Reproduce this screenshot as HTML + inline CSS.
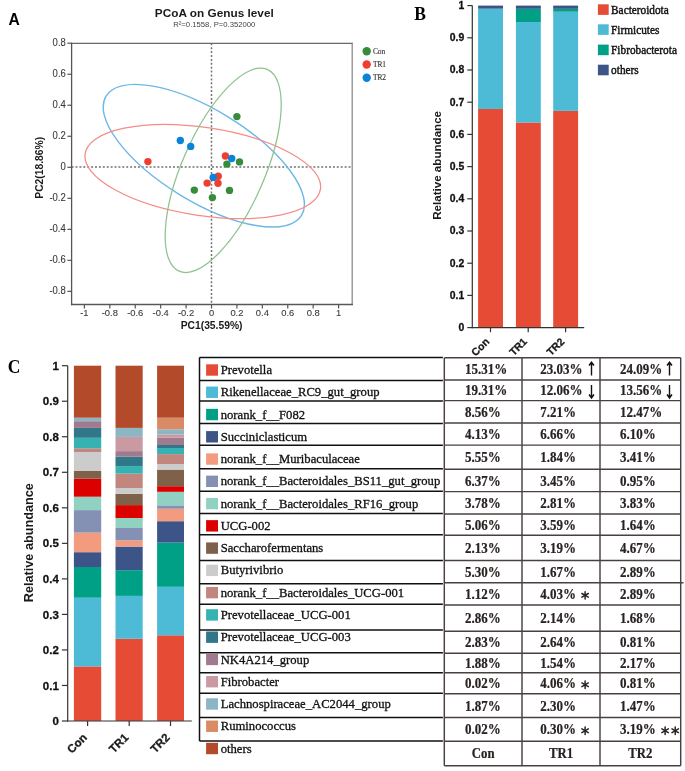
<!DOCTYPE html><html><head><meta charset="utf-8"><style>html,body{margin:0;padding:0;background:#fff;}svg{display:block;filter:blur(0.3px);}text{font-family:"Liberation Sans",sans-serif;}.sf{font-family:"Liberation Serif",serif;}</style></head><body>
<svg width="685" height="771" viewBox="0 0 685 771">
<text x="8.6" y="24.6" font-size="15.6" font-weight="bold" fill="#000">A</text>
<text x="214.3" y="17.1" font-size="11.8" font-weight="bold" fill="#1a1a1a" text-anchor="middle">PCoA on Genus level</text>
<text x="214.3" y="27.1" font-size="7.7" fill="#444" text-anchor="middle">R²=0.1558, P=0.352000</text>
<line x1="71.6" y1="167.0" x2="352.2" y2="167.0" stroke="#727272" stroke-width="1.5" stroke-dasharray="2,1.9"/>
<line x1="211.50" y1="43.3" x2="211.50" y2="304.5" stroke="#727272" stroke-width="1.5" stroke-dasharray="2,1.9"/>
<ellipse cx="203.8" cy="155.7" rx="114.5" ry="45.8" transform="rotate(31.4 203.8 155.7)" fill="none" stroke="#6cb8e6" stroke-width="1.4"/>
<ellipse cx="202.8" cy="171.5" rx="119.0" ry="44.0" transform="rotate(8.56 202.8 171.5)" fill="none" stroke="#f58c86" stroke-width="1.25"/>
<ellipse cx="223.2" cy="170.3" rx="110.06" ry="41.18" transform="rotate(-66.4 223.2 170.3)" fill="none" stroke="#8cc391" stroke-width="1.25"/>
<line x1="71.6" y1="43.3" x2="352.2" y2="43.3" stroke="#686868" stroke-width="1.3" stroke-linecap="square"/>
<line x1="352.2" y1="43.3" x2="352.2" y2="304.5" stroke="#8c8c8c" stroke-width="1.3" stroke-linecap="square"/>
<line x1="71.6" y1="304.5" x2="352.2" y2="304.5" stroke="#585858" stroke-width="1.3" stroke-linecap="square"/>
<line x1="71.6" y1="43.3" x2="71.6" y2="304.5" stroke="#555" stroke-width="1.3" stroke-linecap="square"/>
<line x1="67.4" y1="43.22" x2="71.6" y2="43.22" stroke="#555" stroke-width="1.2"/>
<text transform="translate(65.8 46.32) scale(1 1.08)" font-size="9.5" fill="#3a3a3a" stroke="#3a3a3a" stroke-width="0.1" text-anchor="end">0.8</text>
<line x1="67.4" y1="74.24" x2="71.6" y2="74.24" stroke="#555" stroke-width="1.2"/>
<text transform="translate(65.8 77.34) scale(1 1.08)" font-size="9.5" fill="#3a3a3a" stroke="#3a3a3a" stroke-width="0.1" text-anchor="end">0.6</text>
<line x1="67.4" y1="105.26" x2="71.6" y2="105.26" stroke="#555" stroke-width="1.2"/>
<text transform="translate(65.8 108.36) scale(1 1.08)" font-size="9.5" fill="#3a3a3a" stroke="#3a3a3a" stroke-width="0.1" text-anchor="end">0.4</text>
<line x1="67.4" y1="136.28" x2="71.6" y2="136.28" stroke="#555" stroke-width="1.2"/>
<text transform="translate(65.8 139.38) scale(1 1.08)" font-size="9.5" fill="#3a3a3a" stroke="#3a3a3a" stroke-width="0.1" text-anchor="end">0.2</text>
<line x1="67.4" y1="167.30" x2="71.6" y2="167.30" stroke="#555" stroke-width="1.2"/>
<text transform="translate(65.8 170.40) scale(1 1.08)" font-size="9.5" fill="#3a3a3a" stroke="#3a3a3a" stroke-width="0.1" text-anchor="end">0</text>
<line x1="67.4" y1="198.32" x2="71.6" y2="198.32" stroke="#555" stroke-width="1.2"/>
<text transform="translate(65.8 201.42) scale(1 1.08)" font-size="9.5" fill="#3a3a3a" stroke="#3a3a3a" stroke-width="0.1" text-anchor="end">-0.2</text>
<line x1="67.4" y1="229.34" x2="71.6" y2="229.34" stroke="#555" stroke-width="1.2"/>
<text transform="translate(65.8 232.44) scale(1 1.08)" font-size="9.5" fill="#3a3a3a" stroke="#3a3a3a" stroke-width="0.1" text-anchor="end">-0.4</text>
<line x1="67.4" y1="260.36" x2="71.6" y2="260.36" stroke="#555" stroke-width="1.2"/>
<text transform="translate(65.8 263.46) scale(1 1.08)" font-size="9.5" fill="#3a3a3a" stroke="#3a3a3a" stroke-width="0.1" text-anchor="end">-0.6</text>
<line x1="67.4" y1="291.38" x2="71.6" y2="291.38" stroke="#555" stroke-width="1.2"/>
<text transform="translate(65.8 294.48) scale(1 1.08)" font-size="9.5" fill="#3a3a3a" stroke="#3a3a3a" stroke-width="0.1" text-anchor="end">-0.8</text>
<line x1="84.40" y1="304.5" x2="84.40" y2="308.6" stroke="#555" stroke-width="1.2"/>
<text transform="translate(84.40 316.4) scale(1 1.06)" font-size="9.4" fill="#3a3a3a" stroke="#3a3a3a" stroke-width="0.1" text-anchor="middle">-1</text>
<line x1="109.82" y1="304.5" x2="109.82" y2="308.6" stroke="#555" stroke-width="1.2"/>
<text transform="translate(109.82 316.4) scale(1 1.06)" font-size="9.4" fill="#3a3a3a" stroke="#3a3a3a" stroke-width="0.1" text-anchor="middle">-0.8</text>
<line x1="135.24" y1="304.5" x2="135.24" y2="308.6" stroke="#555" stroke-width="1.2"/>
<text transform="translate(135.24 316.4) scale(1 1.06)" font-size="9.4" fill="#3a3a3a" stroke="#3a3a3a" stroke-width="0.1" text-anchor="middle">-0.6</text>
<line x1="160.66" y1="304.5" x2="160.66" y2="308.6" stroke="#555" stroke-width="1.2"/>
<text transform="translate(160.66 316.4) scale(1 1.06)" font-size="9.4" fill="#3a3a3a" stroke="#3a3a3a" stroke-width="0.1" text-anchor="middle">-0.4</text>
<line x1="186.08" y1="304.5" x2="186.08" y2="308.6" stroke="#555" stroke-width="1.2"/>
<text transform="translate(186.08 316.4) scale(1 1.06)" font-size="9.4" fill="#3a3a3a" stroke="#3a3a3a" stroke-width="0.1" text-anchor="middle">-0.2</text>
<line x1="211.50" y1="304.5" x2="211.50" y2="308.6" stroke="#555" stroke-width="1.2"/>
<text transform="translate(211.50 316.4) scale(1 1.06)" font-size="9.4" fill="#3a3a3a" stroke="#3a3a3a" stroke-width="0.1" text-anchor="middle">0</text>
<line x1="236.92" y1="304.5" x2="236.92" y2="308.6" stroke="#555" stroke-width="1.2"/>
<text transform="translate(236.92 316.4) scale(1 1.06)" font-size="9.4" fill="#3a3a3a" stroke="#3a3a3a" stroke-width="0.1" text-anchor="middle">0.2</text>
<line x1="262.34" y1="304.5" x2="262.34" y2="308.6" stroke="#555" stroke-width="1.2"/>
<text transform="translate(262.34 316.4) scale(1 1.06)" font-size="9.4" fill="#3a3a3a" stroke="#3a3a3a" stroke-width="0.1" text-anchor="middle">0.4</text>
<line x1="287.76" y1="304.5" x2="287.76" y2="308.6" stroke="#555" stroke-width="1.2"/>
<text transform="translate(287.76 316.4) scale(1 1.06)" font-size="9.4" fill="#3a3a3a" stroke="#3a3a3a" stroke-width="0.1" text-anchor="middle">0.6</text>
<line x1="313.18" y1="304.5" x2="313.18" y2="308.6" stroke="#555" stroke-width="1.2"/>
<text transform="translate(313.18 316.4) scale(1 1.06)" font-size="9.4" fill="#3a3a3a" stroke="#3a3a3a" stroke-width="0.1" text-anchor="middle">0.8</text>
<line x1="338.60" y1="304.5" x2="338.60" y2="308.6" stroke="#555" stroke-width="1.2"/>
<text transform="translate(338.60 316.4) scale(1 1.06)" font-size="9.4" fill="#3a3a3a" stroke="#3a3a3a" stroke-width="0.1" text-anchor="middle">1</text>
<text x="211.6" y="329.2" font-size="10.3" font-weight="bold" fill="#1a1a1a" text-anchor="middle">PC1(35.59%)</text>
<text transform="translate(42.6 167.8) rotate(-90)" font-size="10.3" font-weight="bold" fill="#1a1a1a" text-anchor="middle">PC2(18.86%)</text>
<circle cx="236.9" cy="116.6" r="3.7" fill="#368c3a"/>
<circle cx="226.9" cy="164.1" r="3.7" fill="#368c3a"/>
<circle cx="239.5" cy="161.9" r="3.7" fill="#368c3a"/>
<circle cx="229.5" cy="190.4" r="3.7" fill="#368c3a"/>
<circle cx="194.3" cy="190.1" r="3.7" fill="#368c3a"/>
<circle cx="212.4" cy="197.6" r="3.7" fill="#368c3a"/>
<circle cx="147.9" cy="161.6" r="3.7" fill="#f03d31"/>
<circle cx="225.4" cy="156.0" r="3.7" fill="#f03d31"/>
<circle cx="218.2" cy="176.3" r="3.7" fill="#f03d31"/>
<circle cx="207.1" cy="183.1" r="3.7" fill="#f03d31"/>
<circle cx="218.0" cy="183.3" r="3.7" fill="#f03d31"/>
<circle cx="180.3" cy="140.5" r="3.7" fill="#0b83d6"/>
<circle cx="190.7" cy="146.4" r="3.7" fill="#0b83d6"/>
<circle cx="231.7" cy="158.5" r="3.7" fill="#0b83d6"/>
<circle cx="213.2" cy="177.4" r="3.7" fill="#0b83d6"/>
<circle cx="366.7" cy="51.3" r="4.2" fill="#368c3a"/>
<text class="sf" x="372.9" y="53.90" font-size="7.4" fill="#3a3a3a" stroke="#3a3a3a" stroke-width="0.15">Con</text>
<circle cx="366.7" cy="64.5" r="4.2" fill="#f03d31"/>
<text class="sf" x="372.9" y="67.10" font-size="7.4" fill="#3a3a3a" stroke="#3a3a3a" stroke-width="0.15">TR1</text>
<circle cx="366.7" cy="77.8" r="4.2" fill="#0b83d6"/>
<text class="sf" x="372.9" y="80.40" font-size="7.4" fill="#3a3a3a" stroke="#3a3a3a" stroke-width="0.15">TR2</text>
<text class="sf" transform="translate(414.2 19.9) scale(1 1.1)" font-size="17.5" font-weight="bold" fill="#000">B</text>
<line x1="467.3" y1="327.60" x2="472.3" y2="327.60" stroke="#333" stroke-width="1.2"/>
<text x="464.3" y="331.00" font-size="10.4" font-weight="bold" fill="#111" stroke="#111" stroke-width="0.3" text-anchor="end">0</text>
<line x1="467.3" y1="295.40" x2="472.3" y2="295.40" stroke="#333" stroke-width="1.2"/>
<text x="464.3" y="298.80" font-size="10.4" font-weight="bold" fill="#111" stroke="#111" stroke-width="0.3" text-anchor="end">0.1</text>
<line x1="467.3" y1="263.20" x2="472.3" y2="263.20" stroke="#333" stroke-width="1.2"/>
<text x="464.3" y="266.60" font-size="10.4" font-weight="bold" fill="#111" stroke="#111" stroke-width="0.3" text-anchor="end">0.2</text>
<line x1="467.3" y1="231.00" x2="472.3" y2="231.00" stroke="#333" stroke-width="1.2"/>
<text x="464.3" y="234.40" font-size="10.4" font-weight="bold" fill="#111" stroke="#111" stroke-width="0.3" text-anchor="end">0.3</text>
<line x1="467.3" y1="198.80" x2="472.3" y2="198.80" stroke="#333" stroke-width="1.2"/>
<text x="464.3" y="202.20" font-size="10.4" font-weight="bold" fill="#111" stroke="#111" stroke-width="0.3" text-anchor="end">0.4</text>
<line x1="467.3" y1="166.60" x2="472.3" y2="166.60" stroke="#333" stroke-width="1.2"/>
<text x="464.3" y="170.00" font-size="10.4" font-weight="bold" fill="#111" stroke="#111" stroke-width="0.3" text-anchor="end">0.5</text>
<line x1="467.3" y1="134.40" x2="472.3" y2="134.40" stroke="#333" stroke-width="1.2"/>
<text x="464.3" y="137.80" font-size="10.4" font-weight="bold" fill="#111" stroke="#111" stroke-width="0.3" text-anchor="end">0.6</text>
<line x1="467.3" y1="102.20" x2="472.3" y2="102.20" stroke="#333" stroke-width="1.2"/>
<text x="464.3" y="105.60" font-size="10.4" font-weight="bold" fill="#111" stroke="#111" stroke-width="0.3" text-anchor="end">0.7</text>
<line x1="467.3" y1="70.00" x2="472.3" y2="70.00" stroke="#333" stroke-width="1.2"/>
<text x="464.3" y="73.40" font-size="10.4" font-weight="bold" fill="#111" stroke="#111" stroke-width="0.3" text-anchor="end">0.8</text>
<line x1="467.3" y1="37.80" x2="472.3" y2="37.80" stroke="#333" stroke-width="1.2"/>
<text x="464.3" y="41.20" font-size="10.4" font-weight="bold" fill="#111" stroke="#111" stroke-width="0.3" text-anchor="end">0.9</text>
<line x1="467.3" y1="5.60" x2="472.3" y2="5.60" stroke="#333" stroke-width="1.2"/>
<text x="464.3" y="9.00" font-size="10.4" font-weight="bold" fill="#111" stroke="#111" stroke-width="0.3" text-anchor="end">1</text>
<rect x="478.1" y="108.96" width="24.9" height="218.64" fill="#E64B35"/>
<rect x="478.1" y="8.82" width="24.9" height="100.14" fill="#4DBBD5"/>
<rect x="478.1" y="8.66" width="24.9" height="0.16" fill="#00A087"/>
<rect x="478.1" y="5.60" width="24.9" height="3.06" fill="#3C5488"/>
<rect x="515.9" y="122.49" width="24.9" height="205.11" fill="#E64B35"/>
<rect x="515.9" y="22.02" width="24.9" height="100.46" fill="#4DBBD5"/>
<rect x="515.9" y="8.82" width="24.9" height="13.20" fill="#00A087"/>
<rect x="515.9" y="5.60" width="24.9" height="3.22" fill="#3C5488"/>
<rect x="553.2" y="110.89" width="24.9" height="216.71" fill="#E64B35"/>
<rect x="553.2" y="11.72" width="24.9" height="99.18" fill="#4DBBD5"/>
<rect x="553.2" y="8.82" width="24.9" height="2.90" fill="#00A087"/>
<rect x="553.2" y="5.60" width="24.9" height="3.22" fill="#3C5488"/>
<line x1="472.3" y1="5.60" x2="472.3" y2="328.20" stroke="#333" stroke-width="1.2"/>
<line x1="471.7" y1="327.60" x2="584.2" y2="327.60" stroke="#333" stroke-width="1.2"/>
<line x1="490.5" y1="327.60" x2="490.5" y2="332.20" stroke="#333" stroke-width="1.2"/>
<text transform="translate(490.00 342.30) rotate(-45)" font-size="10.5" font-weight="bold" fill="#1a1a1a" stroke="#1a1a1a" stroke-width="0.3" text-anchor="end">Con</text>
<line x1="528.2" y1="327.60" x2="528.2" y2="332.20" stroke="#333" stroke-width="1.2"/>
<text transform="translate(527.70 342.30) rotate(-45)" font-size="10.5" font-weight="bold" fill="#1a1a1a" stroke="#1a1a1a" stroke-width="0.3" text-anchor="end">TR1</text>
<line x1="565.6" y1="327.60" x2="565.6" y2="332.20" stroke="#333" stroke-width="1.2"/>
<text transform="translate(565.10 342.30) rotate(-45)" font-size="10.5" font-weight="bold" fill="#1a1a1a" stroke="#1a1a1a" stroke-width="0.3" text-anchor="end">TR2</text>
<text transform="translate(440.8 165.4) rotate(-90)" font-size="11.6" font-weight="bold" fill="#1a1a1a" text-anchor="middle">Relative abundance</text>
<rect x="597.9" y="4.3" width="10.8" height="10.6" fill="#E64B35"/>
<text class="sf" transform="translate(611.1 13.90) scale(1 1.1)" font-size="11.3" fill="#111" stroke="#111" stroke-width="0.4">Bacteroidota</text>
<rect x="597.9" y="24.3" width="10.8" height="10.6" fill="#4DBBD5"/>
<text class="sf" transform="translate(611.1 33.90) scale(1 1.1)" font-size="11.3" fill="#111" stroke="#111" stroke-width="0.4">Firmicutes</text>
<rect x="597.9" y="44.6" width="10.8" height="10.6" fill="#00A087"/>
<text class="sf" transform="translate(611.1 54.20) scale(1 1.1)" font-size="11.3" fill="#111" stroke="#111" stroke-width="0.4">Fibrobacterota</text>
<rect x="597.9" y="64.7" width="10.8" height="10.6" fill="#3C5488"/>
<text class="sf" transform="translate(611.1 74.30) scale(1 1.1)" font-size="11.3" fill="#111" stroke="#111" stroke-width="0.4">others</text>
<text class="sf" transform="translate(7.8 372.8) scale(1 1.13)" font-size="17.5" font-weight="bold" fill="#000">C</text>
<line x1="61.9" y1="721.00" x2="67.7" y2="721.00" stroke="#333" stroke-width="1.2"/>
<text x="58.8" y="725.10" font-size="11.5" font-weight="bold" fill="#111" stroke="#111" stroke-width="0.3" text-anchor="end">0</text>
<line x1="61.9" y1="685.47" x2="67.7" y2="685.47" stroke="#333" stroke-width="1.2"/>
<text x="58.8" y="689.57" font-size="11.5" font-weight="bold" fill="#111" stroke="#111" stroke-width="0.3" text-anchor="end">0.1</text>
<line x1="61.9" y1="649.94" x2="67.7" y2="649.94" stroke="#333" stroke-width="1.2"/>
<text x="58.8" y="654.04" font-size="11.5" font-weight="bold" fill="#111" stroke="#111" stroke-width="0.3" text-anchor="end">0.2</text>
<line x1="61.9" y1="614.41" x2="67.7" y2="614.41" stroke="#333" stroke-width="1.2"/>
<text x="58.8" y="618.51" font-size="11.5" font-weight="bold" fill="#111" stroke="#111" stroke-width="0.3" text-anchor="end">0.3</text>
<line x1="61.9" y1="578.88" x2="67.7" y2="578.88" stroke="#333" stroke-width="1.2"/>
<text x="58.8" y="582.98" font-size="11.5" font-weight="bold" fill="#111" stroke="#111" stroke-width="0.3" text-anchor="end">0.4</text>
<line x1="61.9" y1="543.35" x2="67.7" y2="543.35" stroke="#333" stroke-width="1.2"/>
<text x="58.8" y="547.45" font-size="11.5" font-weight="bold" fill="#111" stroke="#111" stroke-width="0.3" text-anchor="end">0.5</text>
<line x1="61.9" y1="507.82" x2="67.7" y2="507.82" stroke="#333" stroke-width="1.2"/>
<text x="58.8" y="511.92" font-size="11.5" font-weight="bold" fill="#111" stroke="#111" stroke-width="0.3" text-anchor="end">0.6</text>
<line x1="61.9" y1="472.29" x2="67.7" y2="472.29" stroke="#333" stroke-width="1.2"/>
<text x="58.8" y="476.39" font-size="11.5" font-weight="bold" fill="#111" stroke="#111" stroke-width="0.3" text-anchor="end">0.7</text>
<line x1="61.9" y1="436.76" x2="67.7" y2="436.76" stroke="#333" stroke-width="1.2"/>
<text x="58.8" y="440.86" font-size="11.5" font-weight="bold" fill="#111" stroke="#111" stroke-width="0.3" text-anchor="end">0.8</text>
<line x1="61.9" y1="401.23" x2="67.7" y2="401.23" stroke="#333" stroke-width="1.2"/>
<text x="58.8" y="405.33" font-size="11.5" font-weight="bold" fill="#111" stroke="#111" stroke-width="0.3" text-anchor="end">0.9</text>
<line x1="61.9" y1="365.70" x2="67.7" y2="365.70" stroke="#333" stroke-width="1.2"/>
<text x="58.8" y="369.80" font-size="11.5" font-weight="bold" fill="#111" stroke="#111" stroke-width="0.3" text-anchor="end">1</text>
<rect x="73.9" y="666.40" width="27.3" height="54.50" fill="#E64B35"/>
<rect x="73.9" y="597.70" width="27.3" height="68.70" fill="#4DBBD5"/>
<rect x="73.9" y="567.00" width="27.3" height="30.70" fill="#00A087"/>
<rect x="73.9" y="552.20" width="27.3" height="14.80" fill="#3C5488"/>
<rect x="73.9" y="532.60" width="27.3" height="19.60" fill="#F39B7F"/>
<rect x="73.9" y="510.10" width="27.3" height="22.50" fill="#8491B4"/>
<rect x="73.9" y="496.70" width="27.3" height="13.40" fill="#91D1C2"/>
<rect x="73.9" y="478.70" width="27.3" height="18.00" fill="#DC0000"/>
<rect x="73.9" y="471.00" width="27.3" height="7.70" fill="#7E6148"/>
<rect x="73.9" y="452.00" width="27.3" height="19.00" fill="#CCCCCC"/>
<rect x="73.9" y="448.30" width="27.3" height="3.70" fill="#C1877F"/>
<rect x="73.9" y="437.80" width="27.3" height="10.50" fill="#36B2B2"/>
<rect x="73.9" y="427.90" width="27.3" height="9.90" fill="#31778A"/>
<rect x="73.9" y="421.20" width="27.3" height="6.70" fill="#A07A8E"/>
<rect x="73.9" y="417.70" width="27.3" height="3.50" fill="#8DB6C4"/>
<rect x="73.9" y="365.70" width="27.3" height="52.00" fill="#B34B2B"/>
<rect x="115.5" y="638.80" width="27.2" height="82.10" fill="#E64B35"/>
<rect x="115.5" y="595.90" width="27.2" height="42.90" fill="#4DBBD5"/>
<rect x="115.5" y="570.20" width="27.2" height="25.70" fill="#00A087"/>
<rect x="115.5" y="546.60" width="27.2" height="23.60" fill="#3C5488"/>
<rect x="115.5" y="540.30" width="27.2" height="6.30" fill="#F39B7F"/>
<rect x="115.5" y="528.00" width="27.2" height="12.30" fill="#8491B4"/>
<rect x="115.5" y="518.00" width="27.2" height="10.00" fill="#91D1C2"/>
<rect x="115.5" y="505.10" width="27.2" height="12.90" fill="#DC0000"/>
<rect x="115.5" y="493.90" width="27.2" height="11.20" fill="#7E6148"/>
<rect x="115.5" y="488.00" width="27.2" height="5.90" fill="#CCCCCC"/>
<rect x="115.5" y="473.60" width="27.2" height="14.40" fill="#C1877F"/>
<rect x="115.5" y="466.10" width="27.2" height="7.50" fill="#36B2B2"/>
<rect x="115.5" y="456.60" width="27.2" height="9.50" fill="#31778A"/>
<rect x="115.5" y="451.10" width="27.2" height="5.50" fill="#A07A8E"/>
<rect x="115.5" y="436.90" width="27.2" height="14.20" fill="#C99AA2"/>
<rect x="115.5" y="427.90" width="27.2" height="9.00" fill="#8DB6C4"/>
<rect x="115.5" y="365.70" width="27.2" height="62.20" fill="#B34B2B"/>
<rect x="157.1" y="635.30" width="26.9" height="85.60" fill="#E64B35"/>
<rect x="157.1" y="586.80" width="26.9" height="48.50" fill="#4DBBD5"/>
<rect x="157.1" y="542.60" width="26.9" height="44.20" fill="#00A087"/>
<rect x="157.1" y="521.20" width="26.9" height="21.40" fill="#3C5488"/>
<rect x="157.1" y="508.70" width="26.9" height="12.50" fill="#F39B7F"/>
<rect x="157.1" y="505.40" width="26.9" height="3.30" fill="#8491B4"/>
<rect x="157.1" y="491.80" width="26.9" height="13.60" fill="#91D1C2"/>
<rect x="157.1" y="486.20" width="26.9" height="5.60" fill="#DC0000"/>
<rect x="157.1" y="469.60" width="26.9" height="16.60" fill="#7E6148"/>
<rect x="157.1" y="464.00" width="26.9" height="5.60" fill="#CCCCCC"/>
<rect x="157.1" y="454.10" width="26.9" height="9.90" fill="#C1877F"/>
<rect x="157.1" y="448.00" width="26.9" height="6.10" fill="#36B2B2"/>
<rect x="157.1" y="445.00" width="26.9" height="3.00" fill="#31778A"/>
<rect x="157.1" y="437.70" width="26.9" height="7.30" fill="#A07A8E"/>
<rect x="157.1" y="434.50" width="26.9" height="3.20" fill="#C99AA2"/>
<rect x="157.1" y="429.30" width="26.9" height="5.20" fill="#8DB6C4"/>
<rect x="157.1" y="417.70" width="26.9" height="11.60" fill="#D98B66"/>
<rect x="157.1" y="365.70" width="26.9" height="52.00" fill="#B34B2B"/>
<line x1="67.7" y1="365.70" x2="67.7" y2="721.60" stroke="#333" stroke-width="1.2"/>
<line x1="67.10000000000001" y1="721.00" x2="191.8" y2="721.00" stroke="#333" stroke-width="1.2"/>
<line x1="87.6" y1="721.00" x2="87.6" y2="726.00" stroke="#333" stroke-width="1.2"/>
<text transform="translate(87.60 738.30) rotate(-45)" font-size="11.5" font-weight="bold" fill="#1a1a1a" stroke="#1a1a1a" stroke-width="0.3" text-anchor="end">Con</text>
<line x1="129.2" y1="721.00" x2="129.2" y2="726.00" stroke="#333" stroke-width="1.2"/>
<text transform="translate(129.20 738.30) rotate(-45)" font-size="11.5" font-weight="bold" fill="#1a1a1a" stroke="#1a1a1a" stroke-width="0.3" text-anchor="end">TR1</text>
<line x1="170.5" y1="721.00" x2="170.5" y2="726.00" stroke="#333" stroke-width="1.2"/>
<text transform="translate(170.50 738.30) rotate(-45)" font-size="11.5" font-weight="bold" fill="#1a1a1a" stroke="#1a1a1a" stroke-width="0.3" text-anchor="end">TR2</text>
<text transform="translate(33.2 542.7) rotate(-90)" font-size="12.7" font-weight="bold" fill="#1a1a1a" text-anchor="middle">Relative abundance</text>
<line x1="199.5" y1="357.6" x2="442.9" y2="357.6" stroke="#111" stroke-width="1.5"/>
<line x1="199.5" y1="380.4" x2="442.9" y2="380.4" stroke="#111" stroke-width="1.5"/>
<line x1="199.5" y1="400.9" x2="442.9" y2="400.9" stroke="#111" stroke-width="1.5"/>
<line x1="199.5" y1="423.4" x2="442.9" y2="423.4" stroke="#111" stroke-width="1.5"/>
<line x1="199.5" y1="445.2" x2="442.9" y2="445.2" stroke="#111" stroke-width="1.5"/>
<line x1="199.5" y1="468.8" x2="442.9" y2="468.8" stroke="#111" stroke-width="1.5"/>
<line x1="199.5" y1="491.3" x2="442.9" y2="491.3" stroke="#111" stroke-width="1.5"/>
<line x1="199.5" y1="513.6" x2="442.9" y2="513.6" stroke="#111" stroke-width="1.5"/>
<line x1="199.5" y1="534.8" x2="442.9" y2="534.8" stroke="#111" stroke-width="1.5"/>
<line x1="199.5" y1="560.4" x2="442.9" y2="560.4" stroke="#111" stroke-width="1.5"/>
<line x1="199.5" y1="583.8" x2="442.9" y2="583.8" stroke="#111" stroke-width="1.5"/>
<line x1="199.5" y1="604.2" x2="442.9" y2="604.2" stroke="#111" stroke-width="1.5"/>
<line x1="199.5" y1="630.0" x2="442.9" y2="630.0" stroke="#111" stroke-width="1.5"/>
<line x1="199.5" y1="652.8" x2="442.9" y2="652.8" stroke="#111" stroke-width="1.5"/>
<line x1="199.5" y1="672.8" x2="442.9" y2="672.8" stroke="#111" stroke-width="1.5"/>
<line x1="199.5" y1="693.3" x2="442.9" y2="693.3" stroke="#111" stroke-width="1.5"/>
<line x1="199.5" y1="717.5" x2="442.9" y2="717.5" stroke="#111" stroke-width="1.5"/>
<line x1="199.5" y1="740.9" x2="442.9" y2="740.9" stroke="#111" stroke-width="1.5"/>
<line x1="199.5" y1="357.6" x2="199.5" y2="740.9" stroke="#111" stroke-width="1.5"/>
<rect x="206.1" y="364.30" width="11.9" height="11.4" fill="#E64B35"/>
<text class="sf" x="220.7" y="374.10" font-size="12.67" fill="#111" stroke="#111" stroke-width="0.3">Prevotella</text>
<rect x="206.1" y="386.56" width="11.9" height="11.4" fill="#4DBBD5"/>
<text class="sf" x="220.7" y="396.37" font-size="12.67" fill="#111" stroke="#111" stroke-width="0.3">Rikenellaceae_RC9_gut_group</text>
<rect x="206.1" y="408.83" width="11.9" height="11.4" fill="#00A087"/>
<text class="sf" x="220.7" y="418.63" font-size="12.67" fill="#111" stroke="#111" stroke-width="0.3">norank_f__F082</text>
<rect x="206.1" y="431.10" width="11.9" height="11.4" fill="#3C5488"/>
<text class="sf" x="220.7" y="440.90" font-size="12.67" fill="#111" stroke="#111" stroke-width="0.3">Succiniclasticum</text>
<rect x="206.1" y="453.36" width="11.9" height="11.4" fill="#F39B7F"/>
<text class="sf" x="220.7" y="463.16" font-size="12.67" fill="#111" stroke="#111" stroke-width="0.3">norank_f__Muribaculaceae</text>
<rect x="206.1" y="475.62" width="11.9" height="11.4" fill="#8491B4"/>
<text class="sf" x="220.7" y="485.43" font-size="12.67" fill="#111" stroke="#111" stroke-width="0.3">norank_f__Bacteroidales_BS11_gut_group</text>
<rect x="206.1" y="497.89" width="11.9" height="11.4" fill="#91D1C2"/>
<text class="sf" x="220.7" y="507.69" font-size="12.67" fill="#111" stroke="#111" stroke-width="0.3">norank_f__Bacteroidales_RF16_group</text>
<rect x="206.1" y="520.15" width="11.9" height="11.4" fill="#DC0000"/>
<text class="sf" x="220.7" y="529.95" font-size="12.67" fill="#111" stroke="#111" stroke-width="0.3">UCG-002</text>
<rect x="206.1" y="542.42" width="11.9" height="11.4" fill="#7E6148"/>
<text class="sf" x="220.7" y="552.22" font-size="12.67" fill="#111" stroke="#111" stroke-width="0.3">Saccharofermentans</text>
<rect x="206.1" y="564.68" width="11.9" height="11.4" fill="#CCCCCC"/>
<text class="sf" x="220.7" y="574.48" font-size="12.67" fill="#111" stroke="#111" stroke-width="0.3">Butyrivibrio</text>
<rect x="206.1" y="586.95" width="11.9" height="11.4" fill="#C1877F"/>
<text class="sf" x="220.7" y="596.75" font-size="12.67" fill="#111" stroke="#111" stroke-width="0.3">norank_f__Bacteroidales_UCG-001</text>
<rect x="206.1" y="609.22" width="11.9" height="11.4" fill="#36B2B2"/>
<text class="sf" x="220.7" y="619.01" font-size="12.67" fill="#111" stroke="#111" stroke-width="0.3">Prevotellaceae_UCG-001</text>
<rect x="206.1" y="631.48" width="11.9" height="11.4" fill="#31778A"/>
<text class="sf" x="220.7" y="641.28" font-size="12.67" fill="#111" stroke="#111" stroke-width="0.3">Prevotellaceae_UCG-003</text>
<rect x="206.1" y="653.75" width="11.9" height="11.4" fill="#A07A8E"/>
<text class="sf" x="220.7" y="663.54" font-size="12.67" fill="#111" stroke="#111" stroke-width="0.3">NK4A214_group</text>
<rect x="206.1" y="676.01" width="11.9" height="11.4" fill="#C99AA2"/>
<text class="sf" x="220.7" y="685.81" font-size="12.67" fill="#111" stroke="#111" stroke-width="0.3">Fibrobacter</text>
<rect x="206.1" y="698.28" width="11.9" height="11.4" fill="#8DB6C4"/>
<text class="sf" x="220.7" y="708.08" font-size="12.67" fill="#111" stroke="#111" stroke-width="0.3">Lachnospiraceae_AC2044_group</text>
<rect x="206.1" y="720.54" width="11.9" height="11.4" fill="#D98B66"/>
<text class="sf" x="220.7" y="730.34" font-size="12.67" fill="#111" stroke="#111" stroke-width="0.3">Ruminococcus</text>
<rect x="206.1" y="742.81" width="11.9" height="11.4" fill="#B34B2B"/>
<text class="sf" x="220.7" y="752.61" font-size="12.67" fill="#111" stroke="#111" stroke-width="0.3">others</text>
<line x1="444.3" y1="357.8" x2="680.7" y2="357.8" stroke="#4a4040" stroke-width="1.45"/>
<line x1="444.3" y1="380.0" x2="680.7" y2="380.0" stroke="#4a4040" stroke-width="1.45"/>
<line x1="444.3" y1="400.6" x2="680.7" y2="400.6" stroke="#4a4040" stroke-width="1.45"/>
<line x1="444.3" y1="422.9" x2="680.7" y2="422.9" stroke="#4a4040" stroke-width="1.45"/>
<line x1="444.3" y1="445.1" x2="680.7" y2="445.1" stroke="#4a4040" stroke-width="1.45"/>
<line x1="444.3" y1="469.2" x2="680.7" y2="469.2" stroke="#4a4040" stroke-width="1.45"/>
<line x1="444.3" y1="491.6" x2="680.7" y2="491.6" stroke="#4a4040" stroke-width="1.45"/>
<line x1="444.3" y1="513.9" x2="680.7" y2="513.9" stroke="#4a4040" stroke-width="1.45"/>
<line x1="444.3" y1="535.3" x2="680.7" y2="535.3" stroke="#4a4040" stroke-width="1.45"/>
<line x1="444.3" y1="560.4" x2="680.7" y2="560.4" stroke="#4a4040" stroke-width="1.45"/>
<line x1="444.3" y1="582.8" x2="680.7" y2="582.8" stroke="#4a4040" stroke-width="1.45"/>
<line x1="444.3" y1="604.9" x2="680.7" y2="604.9" stroke="#4a4040" stroke-width="1.45"/>
<line x1="444.3" y1="631.2" x2="680.7" y2="631.2" stroke="#4a4040" stroke-width="1.45"/>
<line x1="444.3" y1="653.2" x2="680.7" y2="653.2" stroke="#4a4040" stroke-width="1.45"/>
<line x1="444.3" y1="672.8" x2="680.7" y2="672.8" stroke="#4a4040" stroke-width="1.45"/>
<line x1="444.3" y1="693.8" x2="680.7" y2="693.8" stroke="#4a4040" stroke-width="1.45"/>
<line x1="444.3" y1="717.4" x2="680.7" y2="717.4" stroke="#4a4040" stroke-width="1.45"/>
<line x1="444.3" y1="741.3" x2="680.7" y2="741.3" stroke="#4a4040" stroke-width="1.45"/>
<line x1="444.3" y1="765.8" x2="680.7" y2="765.8" stroke="#4a4040" stroke-width="1.45"/>
<line x1="444.3" y1="357.8" x2="444.3" y2="765.8" stroke="#4a4040" stroke-width="1.45"/>
<line x1="522.0" y1="357.8" x2="522.0" y2="765.8" stroke="#4a4040" stroke-width="1.45"/>
<line x1="600.0" y1="357.8" x2="600.0" y2="765.8" stroke="#4a4040" stroke-width="1.45"/>
<line x1="680.7" y1="357.8" x2="680.7" y2="765.8" stroke="#4a4040" stroke-width="1.45"/>
<line x1="680.7" y1="582.8" x2="683.6" y2="582.8" stroke="#4a4040" stroke-width="1.45"/>
<text class="sf" transform="translate(465.1 374.00) scale(1 1.1)" font-size="13" font-weight="bold" fill="#2a2222" stroke="#2a2222" stroke-width="0.2">15.31%</text>
<text class="sf" transform="translate(540.3 374.00) scale(1 1.1)" font-size="13" font-weight="bold" fill="#2a2222" stroke="#2a2222" stroke-width="0.2">23.03%</text>
<text class="sf" transform="translate(620.0 374.00) scale(1 1.1)" font-size="13" font-weight="bold" fill="#2a2222" stroke="#2a2222" stroke-width="0.2">24.09%</text>
<text class="sf" transform="translate(465.1 395.40) scale(1 1.1)" font-size="13" font-weight="bold" fill="#2a2222" stroke="#2a2222" stroke-width="0.2">19.31%</text>
<text class="sf" transform="translate(540.3 395.40) scale(1 1.1)" font-size="13" font-weight="bold" fill="#2a2222" stroke="#2a2222" stroke-width="0.2">12.06%</text>
<text class="sf" transform="translate(620.0 395.40) scale(1 1.1)" font-size="13" font-weight="bold" fill="#2a2222" stroke="#2a2222" stroke-width="0.2">13.56%</text>
<text class="sf" transform="translate(465.1 416.85) scale(1 1.1)" font-size="13" font-weight="bold" fill="#2a2222" stroke="#2a2222" stroke-width="0.2">8.56%</text>
<text class="sf" transform="translate(540.3 416.85) scale(1 1.1)" font-size="13" font-weight="bold" fill="#2a2222" stroke="#2a2222" stroke-width="0.2">7.21%</text>
<text class="sf" transform="translate(620.0 416.85) scale(1 1.1)" font-size="13" font-weight="bold" fill="#2a2222" stroke="#2a2222" stroke-width="0.2">12.47%</text>
<text class="sf" transform="translate(465.1 439.10) scale(1 1.1)" font-size="13" font-weight="bold" fill="#2a2222" stroke="#2a2222" stroke-width="0.2">4.13%</text>
<text class="sf" transform="translate(540.3 439.10) scale(1 1.1)" font-size="13" font-weight="bold" fill="#2a2222" stroke="#2a2222" stroke-width="0.2">6.66%</text>
<text class="sf" transform="translate(620.0 439.10) scale(1 1.1)" font-size="13" font-weight="bold" fill="#2a2222" stroke="#2a2222" stroke-width="0.2">6.10%</text>
<text class="sf" transform="translate(465.1 462.25) scale(1 1.1)" font-size="13" font-weight="bold" fill="#2a2222" stroke="#2a2222" stroke-width="0.2">5.55%</text>
<text class="sf" transform="translate(540.3 462.25) scale(1 1.1)" font-size="13" font-weight="bold" fill="#2a2222" stroke="#2a2222" stroke-width="0.2">1.84%</text>
<text class="sf" transform="translate(620.0 462.25) scale(1 1.1)" font-size="13" font-weight="bold" fill="#2a2222" stroke="#2a2222" stroke-width="0.2">3.41%</text>
<text class="sf" transform="translate(465.1 485.50) scale(1 1.1)" font-size="13" font-weight="bold" fill="#2a2222" stroke="#2a2222" stroke-width="0.2">6.37%</text>
<text class="sf" transform="translate(540.3 485.50) scale(1 1.1)" font-size="13" font-weight="bold" fill="#2a2222" stroke="#2a2222" stroke-width="0.2">3.45%</text>
<text class="sf" transform="translate(620.0 485.50) scale(1 1.1)" font-size="13" font-weight="bold" fill="#2a2222" stroke="#2a2222" stroke-width="0.2">0.95%</text>
<text class="sf" transform="translate(465.1 507.85) scale(1 1.1)" font-size="13" font-weight="bold" fill="#2a2222" stroke="#2a2222" stroke-width="0.2">3.78%</text>
<text class="sf" transform="translate(540.3 507.85) scale(1 1.1)" font-size="13" font-weight="bold" fill="#2a2222" stroke="#2a2222" stroke-width="0.2">2.81%</text>
<text class="sf" transform="translate(620.0 507.85) scale(1 1.1)" font-size="13" font-weight="bold" fill="#2a2222" stroke="#2a2222" stroke-width="0.2">3.83%</text>
<text class="sf" transform="translate(465.1 529.70) scale(1 1.1)" font-size="13" font-weight="bold" fill="#2a2222" stroke="#2a2222" stroke-width="0.2">5.06%</text>
<text class="sf" transform="translate(540.3 529.70) scale(1 1.1)" font-size="13" font-weight="bold" fill="#2a2222" stroke="#2a2222" stroke-width="0.2">3.59%</text>
<text class="sf" transform="translate(620.0 529.70) scale(1 1.1)" font-size="13" font-weight="bold" fill="#2a2222" stroke="#2a2222" stroke-width="0.2">1.64%</text>
<text class="sf" transform="translate(465.1 552.95) scale(1 1.1)" font-size="13" font-weight="bold" fill="#2a2222" stroke="#2a2222" stroke-width="0.2">2.13%</text>
<text class="sf" transform="translate(540.3 552.95) scale(1 1.1)" font-size="13" font-weight="bold" fill="#2a2222" stroke="#2a2222" stroke-width="0.2">3.19%</text>
<text class="sf" transform="translate(620.0 552.95) scale(1 1.1)" font-size="13" font-weight="bold" fill="#2a2222" stroke="#2a2222" stroke-width="0.2">4.67%</text>
<text class="sf" transform="translate(465.1 576.70) scale(1 1.1)" font-size="13" font-weight="bold" fill="#2a2222" stroke="#2a2222" stroke-width="0.2">5.30%</text>
<text class="sf" transform="translate(540.3 576.70) scale(1 1.1)" font-size="13" font-weight="bold" fill="#2a2222" stroke="#2a2222" stroke-width="0.2">1.67%</text>
<text class="sf" transform="translate(620.0 576.70) scale(1 1.1)" font-size="13" font-weight="bold" fill="#2a2222" stroke="#2a2222" stroke-width="0.2">2.89%</text>
<text class="sf" transform="translate(465.1 598.95) scale(1 1.1)" font-size="13" font-weight="bold" fill="#2a2222" stroke="#2a2222" stroke-width="0.2">1.12%</text>
<text class="sf" transform="translate(540.3 598.95) scale(1 1.1)" font-size="13" font-weight="bold" fill="#2a2222" stroke="#2a2222" stroke-width="0.2">4.03%</text>
<text class="sf" transform="translate(620.0 598.95) scale(1 1.1)" font-size="13" font-weight="bold" fill="#2a2222" stroke="#2a2222" stroke-width="0.2">2.89%</text>
<text class="sf" transform="translate(465.1 623.15) scale(1 1.1)" font-size="13" font-weight="bold" fill="#2a2222" stroke="#2a2222" stroke-width="0.2">2.86%</text>
<text class="sf" transform="translate(540.3 623.15) scale(1 1.1)" font-size="13" font-weight="bold" fill="#2a2222" stroke="#2a2222" stroke-width="0.2">2.14%</text>
<text class="sf" transform="translate(620.0 623.15) scale(1 1.1)" font-size="13" font-weight="bold" fill="#2a2222" stroke="#2a2222" stroke-width="0.2">1.68%</text>
<text class="sf" transform="translate(465.1 647.30) scale(1 1.1)" font-size="13" font-weight="bold" fill="#2a2222" stroke="#2a2222" stroke-width="0.2">2.83%</text>
<text class="sf" transform="translate(540.3 647.30) scale(1 1.1)" font-size="13" font-weight="bold" fill="#2a2222" stroke="#2a2222" stroke-width="0.2">2.64%</text>
<text class="sf" transform="translate(620.0 647.30) scale(1 1.1)" font-size="13" font-weight="bold" fill="#2a2222" stroke="#2a2222" stroke-width="0.2">0.81%</text>
<text class="sf" transform="translate(465.1 668.10) scale(1 1.1)" font-size="13" font-weight="bold" fill="#2a2222" stroke="#2a2222" stroke-width="0.2">1.88%</text>
<text class="sf" transform="translate(540.3 668.10) scale(1 1.1)" font-size="13" font-weight="bold" fill="#2a2222" stroke="#2a2222" stroke-width="0.2">1.54%</text>
<text class="sf" transform="translate(620.0 668.10) scale(1 1.1)" font-size="13" font-weight="bold" fill="#2a2222" stroke="#2a2222" stroke-width="0.2">2.17%</text>
<text class="sf" transform="translate(465.1 688.40) scale(1 1.1)" font-size="13" font-weight="bold" fill="#2a2222" stroke="#2a2222" stroke-width="0.2">0.02%</text>
<text class="sf" transform="translate(540.3 688.40) scale(1 1.1)" font-size="13" font-weight="bold" fill="#2a2222" stroke="#2a2222" stroke-width="0.2">4.06%</text>
<text class="sf" transform="translate(620.0 688.40) scale(1 1.1)" font-size="13" font-weight="bold" fill="#2a2222" stroke="#2a2222" stroke-width="0.2">0.81%</text>
<text class="sf" transform="translate(465.1 710.70) scale(1 1.1)" font-size="13" font-weight="bold" fill="#2a2222" stroke="#2a2222" stroke-width="0.2">1.87%</text>
<text class="sf" transform="translate(540.3 710.70) scale(1 1.1)" font-size="13" font-weight="bold" fill="#2a2222" stroke="#2a2222" stroke-width="0.2">2.30%</text>
<text class="sf" transform="translate(620.0 710.70) scale(1 1.1)" font-size="13" font-weight="bold" fill="#2a2222" stroke="#2a2222" stroke-width="0.2">1.47%</text>
<text class="sf" transform="translate(465.1 734.45) scale(1 1.1)" font-size="13" font-weight="bold" fill="#2a2222" stroke="#2a2222" stroke-width="0.2">0.02%</text>
<text class="sf" transform="translate(540.3 734.45) scale(1 1.1)" font-size="13" font-weight="bold" fill="#2a2222" stroke="#2a2222" stroke-width="0.2">0.30%</text>
<text class="sf" transform="translate(620.0 734.45) scale(1 1.1)" font-size="13" font-weight="bold" fill="#2a2222" stroke="#2a2222" stroke-width="0.2">3.19%</text>
<text class="sf" transform="translate(483.15 758.45) scale(1 1.1)" font-size="12.8" font-weight="bold" fill="#2a2222" stroke="#2a2222" stroke-width="0.2" text-anchor="middle">Con</text>
<text class="sf" transform="translate(561.00 758.45) scale(1 1.1)" font-size="12.8" font-weight="bold" fill="#2a2222" stroke="#2a2222" stroke-width="0.2" text-anchor="middle">TR1</text>
<text class="sf" transform="translate(640.35 758.45) scale(1 1.1)" font-size="12.8" font-weight="bold" fill="#2a2222" stroke="#2a2222" stroke-width="0.2" text-anchor="middle">TR2</text>
<line x1="591.5" y1="363.0" x2="591.5" y2="375.5" stroke="#111" stroke-width="1.4"/><path d="M589.1,365.6 L591.5,362.4 L593.9,365.6" fill="none" stroke="#111" stroke-width="1.6" stroke-linejoin="miter"/>
<line x1="669.5" y1="363.0" x2="669.5" y2="375.5" stroke="#111" stroke-width="1.4"/><path d="M667.1,365.6 L669.5,362.4 L671.9,365.6" fill="none" stroke="#111" stroke-width="1.6" stroke-linejoin="miter"/>
<line x1="591.5" y1="385.0" x2="591.5" y2="397.2" stroke="#111" stroke-width="1.4"/><path d="M589.1,394.59999999999997 L591.5,397.8 L593.9,394.59999999999997" fill="none" stroke="#111" stroke-width="1.6" stroke-linejoin="miter"/>
<line x1="669.5" y1="385.0" x2="669.5" y2="397.2" stroke="#111" stroke-width="1.4"/><path d="M667.1,394.59999999999997 L669.5,397.8 L671.9,394.59999999999997" fill="none" stroke="#111" stroke-width="1.6" stroke-linejoin="miter"/>
<line x1="585.10" y1="591.65" x2="585.10" y2="599.05" stroke="#2a2222" stroke-width="1.5" stroke-linecap="round"/><line x1="588.30" y1="593.50" x2="581.90" y2="597.20" stroke="#2a2222" stroke-width="1.5" stroke-linecap="round"/><line x1="588.30" y1="597.20" x2="581.90" y2="593.50" stroke="#2a2222" stroke-width="1.5" stroke-linecap="round"/>
<line x1="585.10" y1="681.10" x2="585.10" y2="688.50" stroke="#2a2222" stroke-width="1.5" stroke-linecap="round"/><line x1="588.30" y1="682.95" x2="581.90" y2="686.65" stroke="#2a2222" stroke-width="1.5" stroke-linecap="round"/><line x1="588.30" y1="686.65" x2="581.90" y2="682.95" stroke="#2a2222" stroke-width="1.5" stroke-linecap="round"/>
<line x1="585.10" y1="727.05" x2="585.10" y2="734.45" stroke="#2a2222" stroke-width="1.5" stroke-linecap="round"/><line x1="588.30" y1="728.90" x2="581.90" y2="732.60" stroke="#2a2222" stroke-width="1.5" stroke-linecap="round"/><line x1="588.30" y1="732.60" x2="581.90" y2="728.90" stroke="#2a2222" stroke-width="1.5" stroke-linecap="round"/>
<line x1="665.10" y1="727.05" x2="665.10" y2="734.45" stroke="#2a2222" stroke-width="1.5" stroke-linecap="round"/><line x1="668.30" y1="728.90" x2="661.90" y2="732.60" stroke="#2a2222" stroke-width="1.5" stroke-linecap="round"/><line x1="668.30" y1="732.60" x2="661.90" y2="728.90" stroke="#2a2222" stroke-width="1.5" stroke-linecap="round"/>
<line x1="675.20" y1="727.05" x2="675.20" y2="734.45" stroke="#2a2222" stroke-width="1.5" stroke-linecap="round"/><line x1="678.40" y1="728.90" x2="672.00" y2="732.60" stroke="#2a2222" stroke-width="1.5" stroke-linecap="round"/><line x1="678.40" y1="732.60" x2="672.00" y2="728.90" stroke="#2a2222" stroke-width="1.5" stroke-linecap="round"/>
</svg></body></html>
